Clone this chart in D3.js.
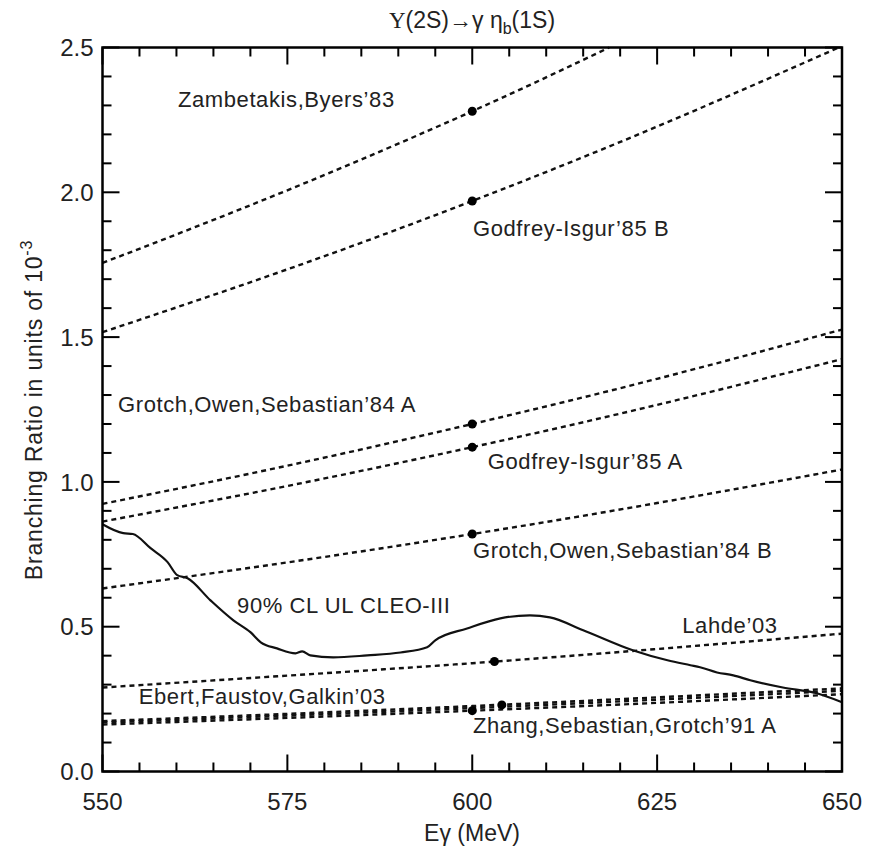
<!DOCTYPE html>
<html>
<head>
<meta charset="utf-8">
<script src="https://cdn.jsdelivr.net/npm/d3@7"></script>
<style>
  body { margin: 0; background: #fff; }
  text { font-family: "Liberation Sans", Arial, sans-serif; fill: #222; }
</style>
</head>
<body>
<svg id="chart"></svg>
<script>
// photon energies where the predictions were read (MeV)
var energies = [550, 575, 600, 625, 650];

// predicted branching ratios (units of 1e-3) at each energy
var zambetakis  = [1.756, 2.007, 2.280, 2.577, 2.899];
var godfreyB    = [1.517, 1.734, 1.970, 2.227, 2.505];
var grotchA     = [0.924, 1.056, 1.200, 1.356, 1.526];
var godfreyA    = [0.863, 0.986, 1.120, 1.266, 1.424];
var grotchB     = [0.632, 0.722, 0.820, 0.927, 1.043];
var lahde       = [0.290, 0.331, 0.374, 0.423, 0.476];
var ebert       = [0.174, 0.199, 0.226, 0.256, 0.287];
var middle      = [0.169, 0.193, 0.219, 0.248, 0.279];
var zhang       = [0.162, 0.185, 0.210, 0.237, 0.267];

var predictions = [zambetakis, godfreyB, grotchA, godfreyA, grotchB, lahde, ebert, middle, zhang];

// dots marking each model's reference point
var dotEnergy = [600, 600, 600, 600, 600, 603, 604, 600];
var dotValue  = [2.28, 1.97, 1.20, 1.12, 0.82, 0.38, 0.23, 0.21];

// CLEO-III 90% CL upper limit
var ulEnergy = [550, 552.8, 554.1, 556.5, 558.8, 560.1, 561.5, 564.6, 567.7, 570.0, 571.4,
  573.6, 576.1, 577.0, 578.1, 581.2, 585.8, 590.3, 593.9, 595.0, 599.3, 603.8, 607.8,
  610.5, 615.0, 621.8, 626.4, 629.5, 630.8, 633.1, 635.3, 637.6, 642.0, 646.6, 650];
var ulValue = [0.854, 0.823, 0.820, 0.771, 0.723, 0.678, 0.667, 0.591, 0.522, 0.481, 0.446,
  0.425, 0.408, 0.415, 0.401, 0.394, 0.401, 0.411, 0.429, 0.453, 0.494, 0.529, 0.539,
  0.532, 0.488, 0.418, 0.384, 0.367, 0.360, 0.342, 0.332, 0.315, 0.290, 0.270, 0.239];

// labels, anchored in data coordinates
var labelText = ["Zambetakis,Byers\u201983", "Godfrey-Isgur\u201985 B", "Grotch,Owen,Sebastian\u201984 A",
  "Godfrey-Isgur\u201985 A", "Grotch,Owen,Sebastian\u201984 B", "90% CL UL CLEO-III", "Lahde\u201903",
  "Ebert,Faustov,Galkin\u201903", "Zhang,Sebastian,Grotch\u201991 A"];
var labelE  = [560.2, 600.1, 552.1, 602.1, 600.1, 568.2, 628.4, 554.9, 600.1];
var labelBR = [2.294, 1.849, 1.240, 1.044, 0.737, 0.547, 0.479, 0.233, 0.133];

var xTicks = [550, 575, 600, 625, 650];
var yTicks = [0.0, 0.5, 1.0, 1.5, 2.0, 2.5];
var xMinor = d3.range(550, 651, 5);
var yMinor = d3.range(0, 26).map(function(i) { return i / 10; });

var config = { w: 884, h: 852, left: 102.5, right: 842, top: 47.5, bottom: 771.5 };

var svg = d3.select("#chart").attr("width", config.w).attr("height", config.h);

var x = d3.scaleLinear().domain([550, 650]).range([config.left, config.right]);
var y = d3.scaleLinear().domain([0, 2.5]).range([config.bottom, config.top]);

// each prediction curve stops where it leaves the frame
function inFrame(values) {
  var pts = [];
  for (var i = 0; i < values.length; i++) {
    if (values[i] <= 2.5) {
      pts.push([energies[i], values[i]]);
    } else {
      var e0 = energies[i - 1], v0 = values[i - 1];
      var t = (2.5 - v0) / (values[i] - v0);
      pts.push([e0 + t * (energies[i] - e0), 2.5]);
      break;
    }
  }
  return pts;
}

// dashed model predictions
var line = d3.line()
  .curve(d3.curveNatural)
  .x(function(d) { return x(d[0]); })
  .y(function(d) { return y(d[1]); });

svg.selectAll("path.model")
  .data(predictions)
  .enter().append("path")
  .attr("class", "model")
  .attr("d", function(d) { return line(inFrame(d)); })
  .attr("fill", "none")
  .attr("stroke", "#111")
  .attr("stroke-width", 2.4)
  .attr("stroke-dasharray", "5,4");

// upper limit curve
var ulLine = d3.line()
  .curve(d3.curveMonotoneX)
  .x(function(d, i) { return x(ulEnergy[i]); })
  .y(function(d) { return y(d); });

svg.append("path")
  .datum(ulValue)
  .attr("d", ulLine)
  .attr("fill", "none")
  .attr("stroke", "#111")
  .attr("stroke-width", 2.2);

svg.selectAll("circle")
  .data(dotValue)
  .enter().append("circle")
  .attr("cx", function(d, i) { return x(dotEnergy[i]); })
  .attr("cy", function(d) { return y(d); })
  .attr("r", 4.5)
  .attr("fill", "#000");

// inward ticks on all four sides, as small filled bars
function tickLen(v, major) {
  return major.some(function(m) { return Math.abs(m - v) < 1e-6; }) ? 17 : 9;
}

var tickG = svg.append("g").attr("fill", "#000");

tickG.selectAll("rect.xb").data(xMinor).enter().append("rect")
  .attr("x", function(d) { return x(d) - 1; })
  .attr("y", function(d) { return config.bottom - tickLen(d, xTicks); })
  .attr("width", 2)
  .attr("height", function(d) { return tickLen(d, xTicks); });
tickG.selectAll("rect.xt").data(xMinor).enter().append("rect")
  .attr("x", function(d) { return x(d) - 1; })
  .attr("y", config.top)
  .attr("width", 2)
  .attr("height", function(d) { return tickLen(d, xTicks); });
tickG.selectAll("rect.yl").data(yMinor).enter().append("rect")
  .attr("x", config.left)
  .attr("y", function(d) { return y(d) - 1; })
  .attr("width", function(d) { return tickLen(d, yTicks); })
  .attr("height", 2);
tickG.selectAll("rect.yr").data(yMinor).enter().append("rect")
  .attr("x", function(d) { return config.right - tickLen(d, yTicks); })
  .attr("y", function(d) { return y(d) - 1; })
  .attr("width", function(d) { return tickLen(d, yTicks); })
  .attr("height", 2);

// frame
svg.append("path")
  .attr("d", "M" + config.left + "," + config.top + "H" + config.right + "V" + config.bottom +
    "H" + config.left + "Z")
  .attr("fill", "none").attr("stroke", "#000").attr("stroke-width", 2.5);

// tick labels
svg.selectAll("text.xlab").data(xTicks).enter().append("text")
  .attr("class", "xlab")
  .attr("x", x).attr("y", config.bottom + 38)
  .attr("text-anchor", "middle")
  .attr("font-size", 24)
  .text(d3.format("d"));

svg.selectAll("text.ylab").data(yTicks).enter().append("text")
  .attr("class", "ylab")
  .attr("x", config.left - 9).attr("y", y)
  .attr("dy", "0.36em")
  .attr("text-anchor", "end")
  .attr("font-size", 24)
  .text(d3.format(".1f"));

// annotations
svg.selectAll("text.label")
  .data(labelText)
  .enter().append("text")
  .attr("class", "label")
  .attr("x", function(d, i) { return x(labelE[i]); })
  .attr("y", function(d, i) { return y(labelBR[i]); })
  .attr("font-size", 22)
  .attr("letter-spacing", 0.6)
  .text(function(d) { return d; });

// titles
var title = svg.append("text")
  .attr("x", 472).attr("y", 28)
  .attr("text-anchor", "middle")
  .attr("font-size", 23);
title.append("tspan").attr("font-family", "Liberation Serif, serif").text("\u03A5");
title.append("tspan").text("(2S)\u2192\u03B3 \u03B7");
title.append("tspan").attr("font-size", 16).attr("dy", 6).text("b");
title.append("tspan").attr("dy", -6).text("(1S)");

svg.append("text")
  .attr("x", 472).attr("y", 841)
  .attr("text-anchor", "middle")
  .attr("font-size", 23)
  .text("E\u03B3 (MeV)");

var ytitle = svg.append("text")
  .attr("transform", "translate(42,410) rotate(-90)")
  .attr("text-anchor", "middle")
  .attr("font-size", 23)
  .attr("letter-spacing", 0.8);
ytitle.append("tspan").text("Branching Ratio in units of 10");
ytitle.append("tspan").attr("font-size", 16).attr("dy", -10).text("-3");
</script>
</body>
</html>
